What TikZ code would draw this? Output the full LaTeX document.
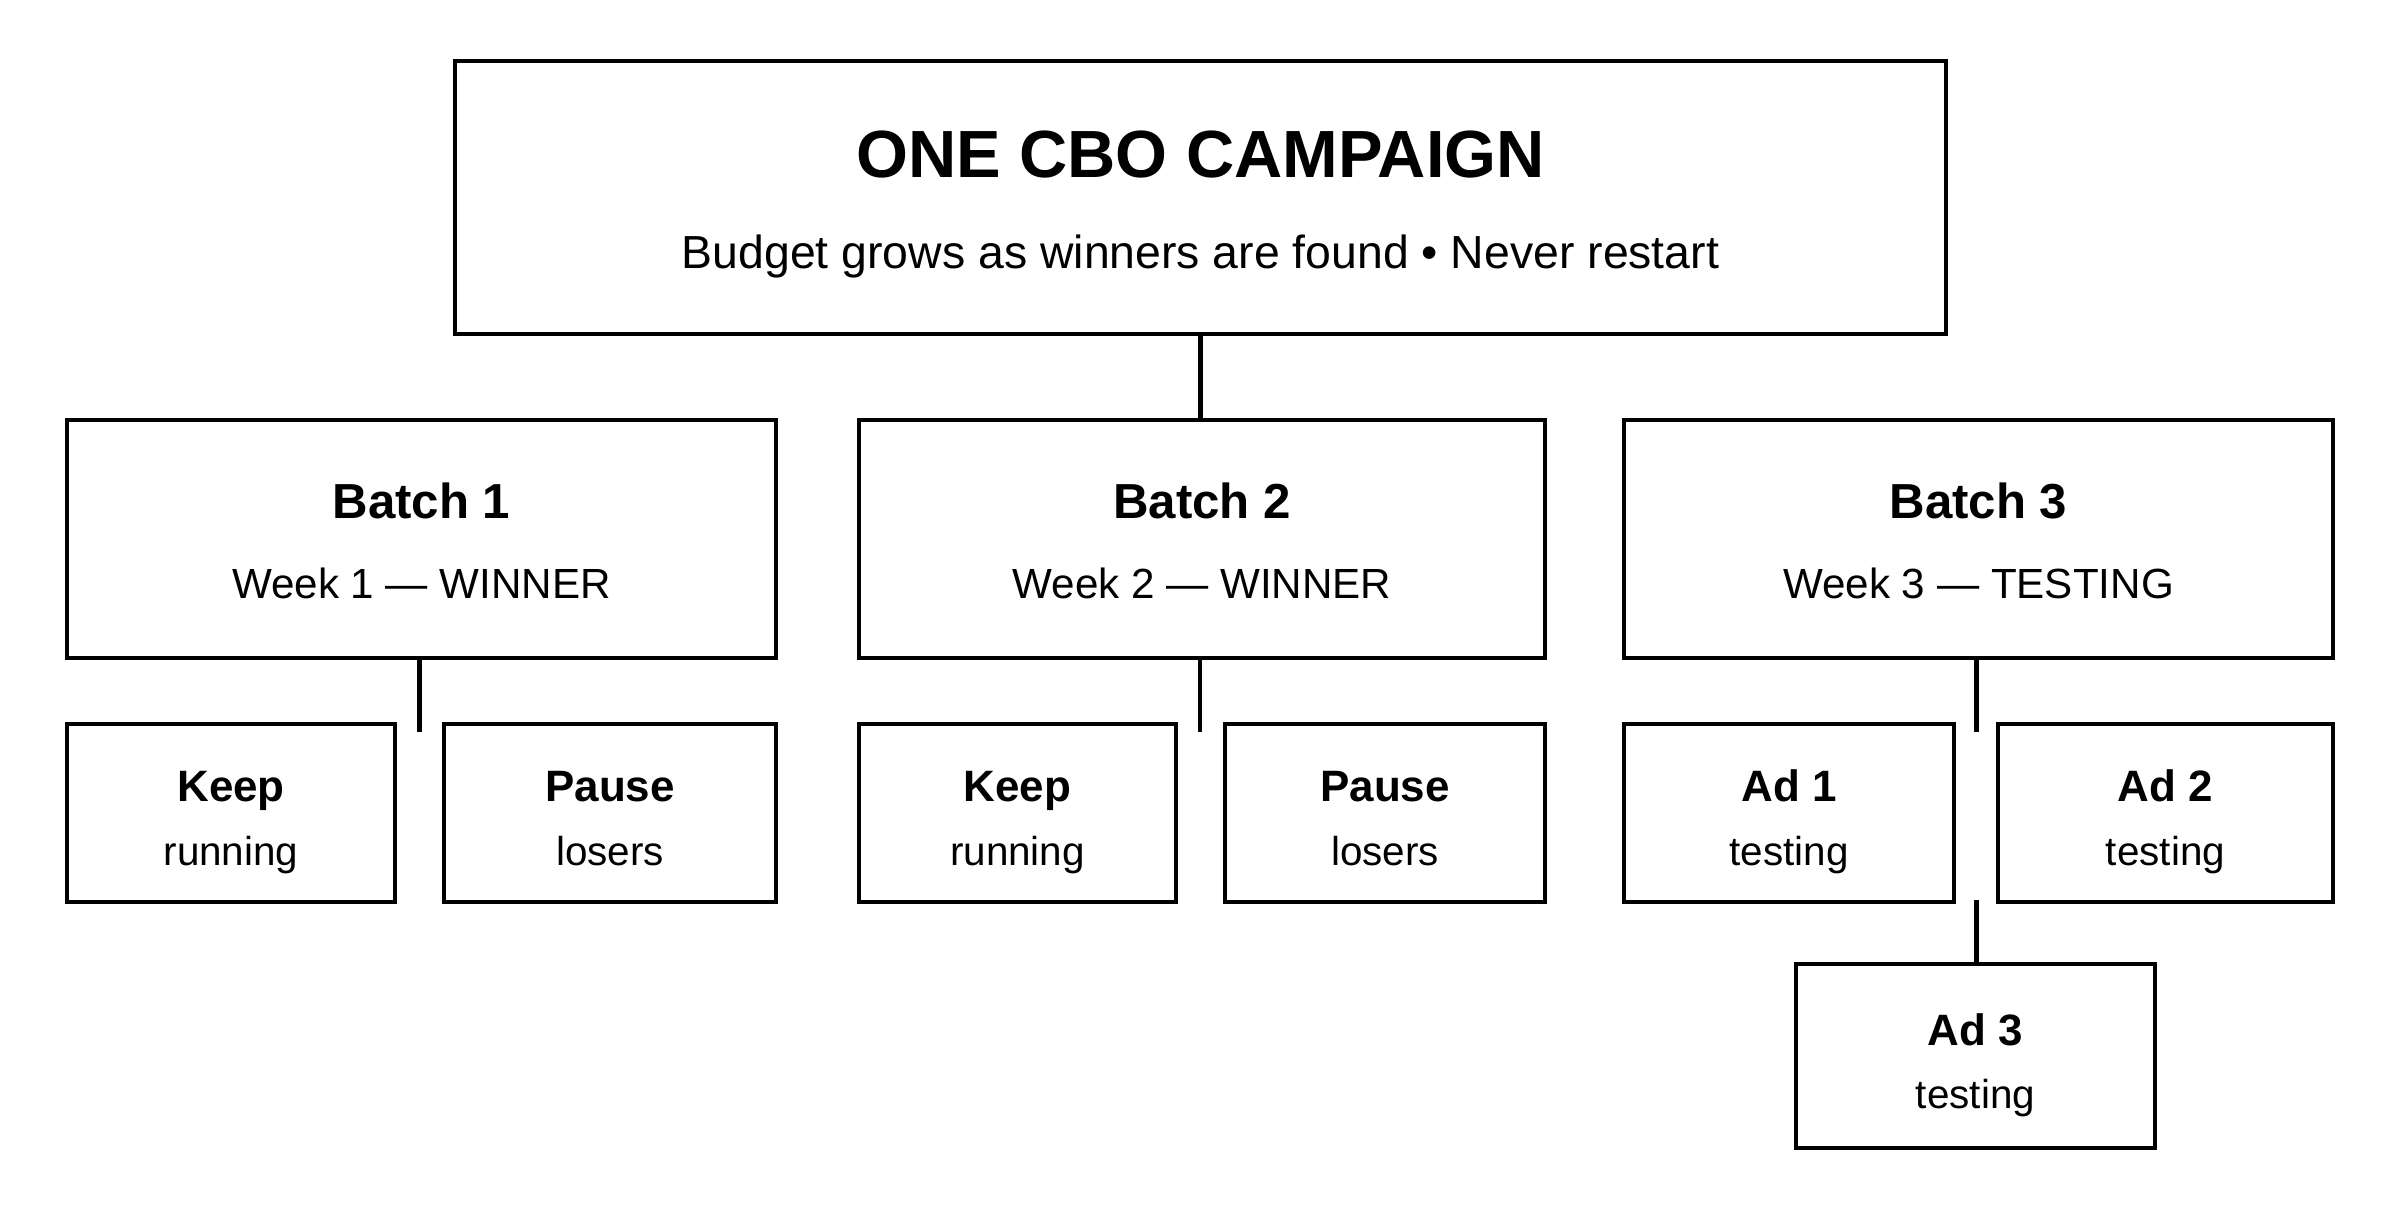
\documentclass[tikz,border=0pt]{standalone}
\usepackage{fontspec}
\setmainfont{Liberation Sans}
\usepackage{tikz}
\usetikzlibrary{shapes,arrows}

\newcommand{\headtxt}{\fontsize{19}{19}\selectfont\bfseries}
\newcommand{\batchtxt}{\fontsize{14}{14}\selectfont\bfseries}
\newcommand{\leaftxt}{\fontsize{12.5}{12.5}\selectfont\bfseries}

\begin{document}
\begin{tikzpicture}[
  box/.style={shape=rectangle, draw, line width=1.3pt, align=center, inner sep=0pt, text depth=0pt},
  leaf/.style={box, minimum height=1.78cm, text height=29.6pt, font=\fontsize{11.5}{18}\selectfont},
  batch/.style={box, minimum width=7.09cm, minimum height=2.38cm, text height=33.6pt, font=\fontsize{12}{22.5}\selectfont},
  link/.style={line width=1.3pt}
]
\useasboundingbox (0,0) rectangle (24,-12.27);

\node (top) at (12.005,-1.975) [box, minimum width=14.91cm, minimum height=2.73cm, text height=40.4pt, font=\fontsize{13.2}{26}\selectfont]
  {\headtxt ONE CBO CAMPAIGN\\ Budget grows as winners are found \textbullet{} Never restart};

\node (b1) at (4.215,-5.39) [batch] {\batchtxt Batch 1\\ Week 1 — WINNER};
\node (b2) at (12.02,-5.39) [batch, minimum width=6.86cm] {\batchtxt Batch 2\\ Week 2 — WINNER};
\node (b3) at (19.785,-5.39) [batch] {\batchtxt Batch 3\\ Week 3 — TESTING};

\node (keep1) at (2.31,-8.13) [leaf, minimum width=3.28cm] {\leaftxt Keep\\ running};
\node (pause1) at (6.10,-8.13) [leaf, minimum width=3.32cm] {\leaftxt Pause\\ losers};
\node (keep2) at (10.175,-8.13) [leaf, minimum width=3.17cm] {\leaftxt Keep\\ running};
\node (pause2) at (13.85,-8.13) [leaf, minimum width=3.20cm] {\leaftxt Pause\\ losers};
\node (ad1) at (17.89,-8.13) [leaf, minimum width=3.30cm] {\leaftxt Ad 1\\ testing};
\node (ad2) at (21.655,-8.13) [leaf, minimum width=3.35cm] {\leaftxt Ad 2\\ testing};
\node (ad3) at (19.755,-10.56) [leaf, minimum width=3.59cm, minimum height=1.84cm, text height=30pt] {\leaftxt Ad 3\\ testing};

% loose ends of the stubs
\coordinate (e1) at (4.195,-7.32);
\coordinate (e2) at (12.0,-7.32);
\coordinate (e3) at (19.765,-7.32);
\coordinate (s3) at (19.765,-9.0);

\draw [link] (top.south) -- (top.south |- b2.north);
\draw [link] (b1.south -| e1) -- (e1);
\draw [link] (b2.south -| e2) -- (e2);
\draw [link] (b3.south -| e3) -- (e3);
\draw [link] (s3) -- (s3 |- ad3.north);
\end{tikzpicture}
\end{document}
